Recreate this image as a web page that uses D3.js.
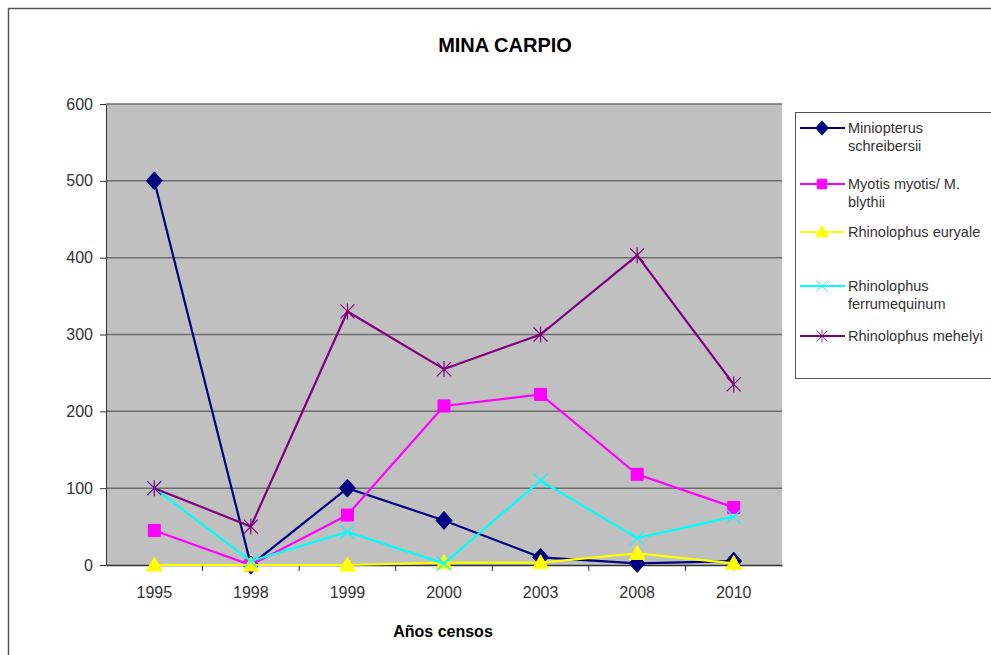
<!DOCTYPE html>
<html>
<head>
<meta charset="utf-8">
<script src="https://cdn.jsdelivr.net/npm/d3@7"></script>
<style>
  body { margin: 0; background: #fff; }
  text { font-family: "Liberation Sans", Arial, sans-serif; }
</style>
</head>
<body>
<svg width="991" height="655"></svg>
<script>
var years = ["1995", "1998", "1999", "2000", "2003", "2008", "2010"];
var yTicks = [0, 100, 200, 300, 400, 500, 600];

var miniopterus = [500, 0, 100, 58, 10, 2, 5];
var myotis = [45, 0, 65, 207, 222, 118, 75];
var euryale = [0, 0, 0, 3, 3, 15, 2];
var ferrum = [100, 5, 43, 2, 110, 35, 63];
var mehelyi = [100, 50, 330, 255, 300, 403, 235];

var seriesNames = [["Miniopterus", "schreibersii"], ["Myotis myotis/ M.", "blythii"],
  ["Rhinolophus euryale"], ["Rhinolophus", "ferrumequinum"], ["Rhinolophus mehelyi"]];
var seriesColors = ["#000080", "#ff00ff", "#ffff00", "#00ffff", "#800080"];
var seriesMarkers = ["diamond", "square", "triangle", "x", "star"];

var series = [miniopterus, myotis, euryale, ferrum, mehelyi].map(function(v, i) {
  return {name: seriesNames[i], color: seriesColors[i], marker: seriesMarkers[i], values: v};
});

var svg = d3.select("svg");

// outer chart frame (clipped by the window on right and bottom)
svg.append("rect")
    .attr("x", 8.5).attr("y", 8.5)
    .attr("width", 1000).attr("height", 700)
    .attr("fill", "#fff")
    .attr("stroke", "#555").attr("stroke-width", 1.5);

var plotLeft = 106, plotRight = 782, plotTop = 104, plotBottom = 565;

var x = d3.scaleBand().domain(years).range([plotLeft, plotRight]);
var y = d3.scaleLinear().domain([0, 600]).range([plotBottom, plotTop]);

svg.append("rect")
    .attr("x", plotLeft).attr("y", plotTop)
    .attr("width", plotRight - plotLeft).attr("height", plotBottom - plotTop)
    .attr("fill", "#c0c0c0");

svg.append("g").selectAll("line")
  .data(yTicks.filter(function(d) { return d > 0; }))
  .enter().append("line")
    .attr("x1", plotLeft).attr("x2", plotRight)
    .attr("y1", function(d) { return y(d); })
    .attr("y2", function(d) { return y(d); })
    .attr("stroke", "#6e6e6e").attr("stroke-width", 1.5);

var yAxis = svg.append("g")
    .attr("transform", "translate(" + plotLeft + ",0)")
    .call(d3.axisLeft(y).tickValues(yTicks).tickSize(6).tickPadding(7));
yAxis.select(".domain").attr("stroke", "#333");
yAxis.selectAll("line").attr("stroke", "#333");
yAxis.selectAll("text").attr("font-size", 16).attr("fill", "#333");

var xAxis = svg.append("g")
    .attr("transform", "translate(0," + plotBottom + ")")
    .call(d3.axisBottom(x).tickSize(0).tickPadding(22));
xAxis.select(".domain").attr("stroke", "#333").attr("stroke-width", 1.5);
xAxis.selectAll("text").attr("font-size", 16).attr("fill", "#333");

// tick marks between categories
svg.append("g").selectAll("line")
  .data(years.slice(1))
  .enter().append("line")
    .attr("x1", function(d) { return x(d); })
    .attr("x2", function(d) { return x(d); })
    .attr("y1", plotBottom).attr("y2", plotBottom + 6)
    .attr("stroke", "#333");

function markerPath(type) {
  if (type == "diamond") return "M0,-9L8,0L0,9L-8,0Z";
  if (type == "square") return "M-6,-6H6V6H-6Z";
  if (type == "triangle") return "M0,-8L8,6H-8Z";
  if (type == "x") return "M-7,-7L7,7M-7,7L7,-7";
  return "M-7,-7L7,7M-7,7L7,-7M0,-8V8";
}

var line = d3.line()
    .x(function(d, i) { return x(years[i]) + x.bandwidth() / 2; })
    .y(function(d) { return y(d); });

var sg = svg.selectAll(".series")
  .data(series)
  .enter().append("g")
    .attr("class", "series");

sg.append("path")
    .attr("d", function(d) { return line(d.values); })
    .attr("fill", "none")
    .attr("stroke", function(d) { return d.color; })
    .attr("stroke-width", 2.2);

sg.each(function(s) {
  d3.select(this).selectAll(".mk")
    .data(s.values)
    .enter().append("path")
      .attr("class", "mk")
      .attr("transform", function(d, i) {
        return "translate(" + (x(years[i]) + x.bandwidth() / 2) + "," + y(d) + ")";
      })
      .attr("d", markerPath(s.marker))
      .attr("fill", s.marker == "x" || s.marker == "star" ? "none" : s.color)
      .attr("stroke", s.color)
      .attr("stroke-width", s.marker == "x" || s.marker == "star" ? 1.2 : 1);
});

// title and axis title
svg.append("text")
    .attr("x", 505).attr("y", 52)
    .attr("text-anchor", "middle")
    .attr("font-size", 20).attr("font-weight", "bold")
    .text("MINA CARPIO");

svg.append("text")
    .attr("x", 443).attr("y", 637)
    .attr("text-anchor", "middle")
    .attr("font-size", 16).attr("font-weight", "bold")
    .text("Años censos");

// legend
svg.append("rect")
    .attr("x", 795.5).attr("y", 112.5)
    .attr("width", 220).attr("height", 266)
    .attr("fill", "#fff")
    .attr("stroke", "#555");

var legendY = [128, 184, 232, 286, 336];

var lg = svg.selectAll(".legend")
  .data(series)
  .enter().append("g")
    .attr("class", "legend")
    .attr("transform", function(d, i) { return "translate(800," + legendY[i] + ")"; });

lg.append("line")
    .attr("x1", 0).attr("x2", 45)
    .attr("stroke", function(d) { return d.color; })
    .attr("stroke-width", 2.2);

lg.append("path")
    .attr("transform", "translate(22,0) scale(0.8)")
    .attr("d", function(d) { return markerPath(d.marker); })
    .attr("fill", function(d) { return d.marker == "x" || d.marker == "star" ? "none" : d.color; })
    .attr("stroke", function(d) { return d.color; });

lg.each(function(d) {
  var t = d3.select(this).append("text")
      .attr("x", 48).attr("y", 5)
      .attr("font-size", 14.5).attr("fill", "#333");
  d.name.forEach(function(n, j) {
    t.append("tspan").attr("x", 48).attr("dy", j ? 18 : 0).text(n);
  });
});
</script>
</body>
</html>
